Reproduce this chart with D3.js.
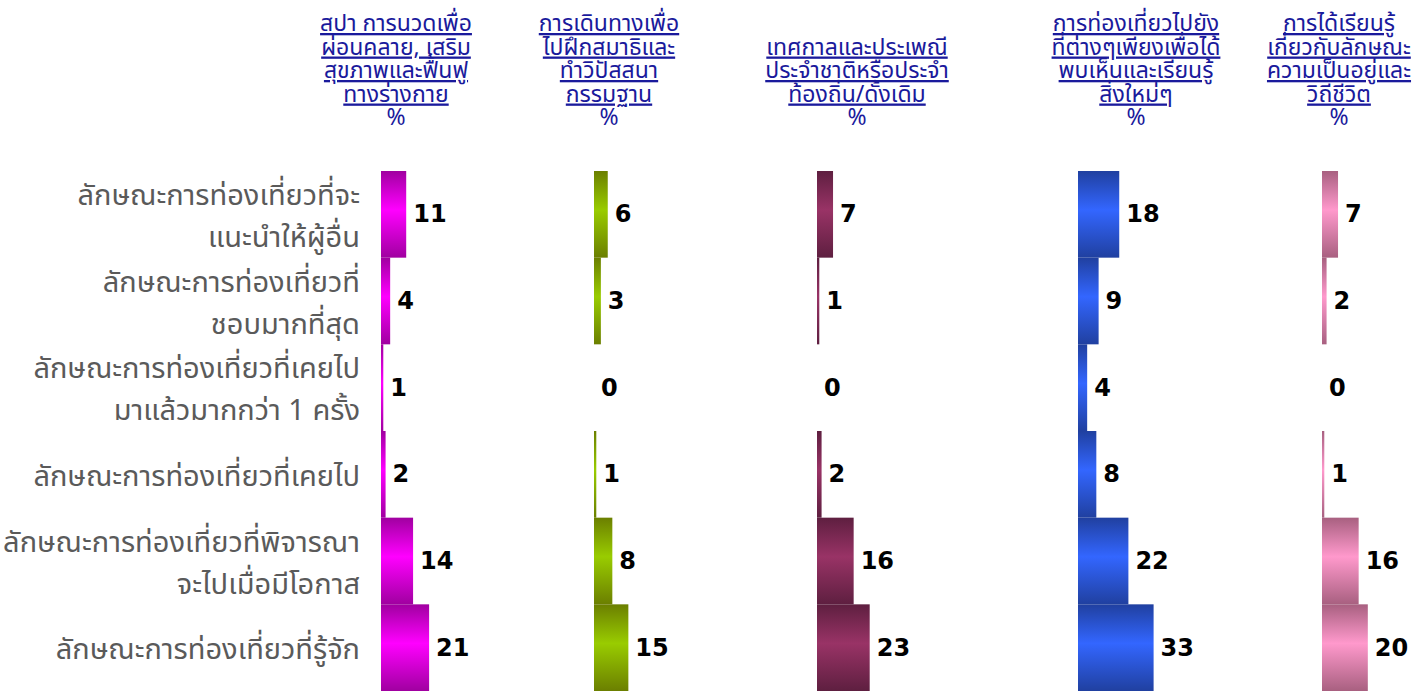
<!DOCTYPE html>
<html>
<head>
<meta charset="utf-8">
<script src="https://cdn.jsdelivr.net/npm/d3@7"></script>
<style>
  html, body { margin: 0; padding: 0; background: #fff; }
  svg { display: block; }
</style>
</head>
<body>
<svg id="chart" width="1427" height="691"></svg>
<script>
// ---- data ----
const categories = [
  "ลักษณะการท่องเที่ยวที่จะแนะนำให้ผู้อื่น",
  "ลักษณะการท่องเที่ยวที่ชอบมากที่สุด",
  "ลักษณะการท่องเที่ยวที่เคยไปมาแล้วมากกว่า 1 ครั้ง",
  "ลักษณะการท่องเที่ยวที่เคยไป",
  "ลักษณะการท่องเที่ยวที่พิจารณาจะไปเมื่อมีโอกาส",
  "ลักษณะการท่องเที่ยวที่รู้จัก"
];
const categoryLines = [
  ["ลักษณะการท่องเที่ยวที่จะ", "แนะนำให้ผู้อื่น"],
  ["ลักษณะการท่องเที่ยวที่", "ชอบมากที่สุด"],
  ["ลักษณะการท่องเที่ยวที่เคยไป", "มาแล้วมากกว่า 1 ครั้ง"],
  ["ลักษณะการท่องเที่ยวที่เคยไป"],
  ["ลักษณะการท่องเที่ยวที่พิจารณา", "จะไปเมื่อมีโอกาส"],
  ["ลักษณะการท่องเที่ยวที่รู้จัก"]
];
const seriesNames = [
  "สปา การนวดเพื่อผ่อนคลาย, เสริมสุขภาพและฟื้นฟูทางร่างกาย",
  "การเดินทางเพื่อไปฝึกสมาธิและทำวิปัสสนากรรมฐาน",
  "เทศกาลและประเพณีประจำชาติหรือประจำท้องถิ่น/ดั้งเดิม",
  "การท่องเที่ยวไปยังที่ต่างๆเพียงเพื่อได้พบเห็นและเรียนรู้สิ่งใหม่ๆ",
  "การได้เรียนรู้เกี่ยวกับลักษณะความเป็นอยู่และวิถีชีวิต"
];
const seriesHeaderLines = [
  ["สปา การนวดเพื่อ", "ผ่อนคลาย, เสริม", "สุขภาพและฟื้นฟู", "ทางร่างกาย"],
  ["การเดินทางเพื่อ", "ไปฝึกสมาธิและ", "ทำวิปัสสนา", "กรรมฐาน"],
  ["เทศกาลและประเพณี", "ประจำชาติหรือประจำ", "ท้องถิ่น/ดั้งเดิม"],
  ["การท่องเที่ยวไปยัง", "ที่ต่างๆเพียงเพื่อได้", "พบเห็นและเรียนรู้", "สิ่งใหม่ๆ"],
  ["การได้เรียนรู้", "เกี่ยวกับลักษณะ", "ความเป็นอยู่และ", "วิถีชีวิต"]
];
const unitLabel = "%";
const spaValues        = [11, 4, 1, 2, 14, 21];
const meditationValues = [6, 3, 0, 1, 8, 15];
const festivalValues   = [7, 1, 0, 2, 16, 23];
const discoverValues   = [18, 9, 4, 8, 22, 33];
const lifestyleValues  = [7, 2, 0, 1, 16, 20];
const seriesValues = [spaValues, meditationValues, festivalValues, discoverValues, lifestyleValues];

// ---- style / layout ----
const colors = [
  { dark: "#a000a0", light: "#ff00ff" },
  { dark: "#6b7f00", light: "#99cc00" },
  { dark: "#5e1f40", light: "#993366" },
  { dark: "#2040a0", light: "#3366ff" },
  { dark: "#a86080", light: "#ff99cc" }
];
const baselines = [381, 594, 817, 1078, 1322];
const headerCenters = [396, 609, 857, 1136, 1339];

const svg = d3.select("#chart");
const defs = svg.append("defs");
colors.forEach((c, i) => {
  const g = defs.append("linearGradient")
    .attr("id", "grad" + i)
    .attr("x1", 0).attr("y1", 0).attr("x2", 0).attr("y2", 1);
  g.append("stop").attr("offset", "0%").attr("stop-color", c.dark);
  g.append("stop").attr("offset", "45%").attr("stop-color", c.light);
  g.append("stop").attr("offset", "100%").attr("stop-color", c.dark);
});

const y = d3.scaleBand().domain(categories).range([171, 691]).padding(0);
const x = d3.scaleLinear().domain([0, 33]).range([0, 75.6]);

// row labels
const labelFont = "'Noto Sans', 'Noto Sans Thai', sans-serif";
categories.forEach((cat, i) => {
  const lines = categoryLines[i];
  const cy = y(cat) + y.bandwidth() / 2;
  const lh = 42;
  const t = svg.append("text")
    .attr("x", 360)
    .attr("text-anchor", "end")
    .attr("font-family", labelFont)
    .attr("font-size", 29)
    .attr("fill", "#5a5a5a");
  lines.forEach((ln, j) => {
    t.append("tspan")
      .attr("x", 360)
      .attr("y", cy + (j - (lines.length - 1) / 2) * lh)
      .attr("dominant-baseline", "central")
      .text(ln);
  });
});

// panels
seriesValues.forEach((vals, si) => {
  const g = svg.append("g").attr("transform", `translate(${baselines[si]},0)`);
  const data = categories.map((c, i) => ({ cat: c, v: vals[i] }));
  g.selectAll("rect").data(data).join("rect")
    .attr("x", 0)
    .attr("y", d => y(d.cat))
    .attr("width", d => x(d.v))
    .attr("height", y.bandwidth())
    .attr("fill", `url(#grad${si})`);
  g.selectAll("text.val").data(data).join("text")
    .attr("class", "val")
    .attr("x", d => x(d.v) + 7)
    .attr("y", d => y(d.cat) + y.bandwidth() / 2)
    .attr("dominant-baseline", "central")
    .attr("font-family", "'DejaVu Sans', Verdana, sans-serif")
    .attr("font-weight", "bold")
    .attr("font-size", 24)
    .attr("fill", "#000")
    .text(d => d.v);

  // header (one text element: underlined lines + unit)
  const hl = seriesHeaderLines[si];
  const cx = headerCenters[si];
  const lh = 23.5;
  const pctY = 125;
  const t = svg.append("text")
    .attr("text-anchor", "middle")
    .attr("font-family", labelFont)
    .attr("font-size", 23)
    .attr("fill", "#1a1a9c");
  hl.forEach((ln, j) => {
    t.append("tspan")
      .attr("x", cx)
      .attr("y", pctY - (hl.length - j) * lh)
      .attr("text-decoration", "underline")
      .style("text-decoration", "underline")
      .text(ln);
  });
  t.append("tspan")
    .attr("x", cx)
    .attr("y", pctY)
    .text(unitLabel);
});
</script>
</body>
</html>
